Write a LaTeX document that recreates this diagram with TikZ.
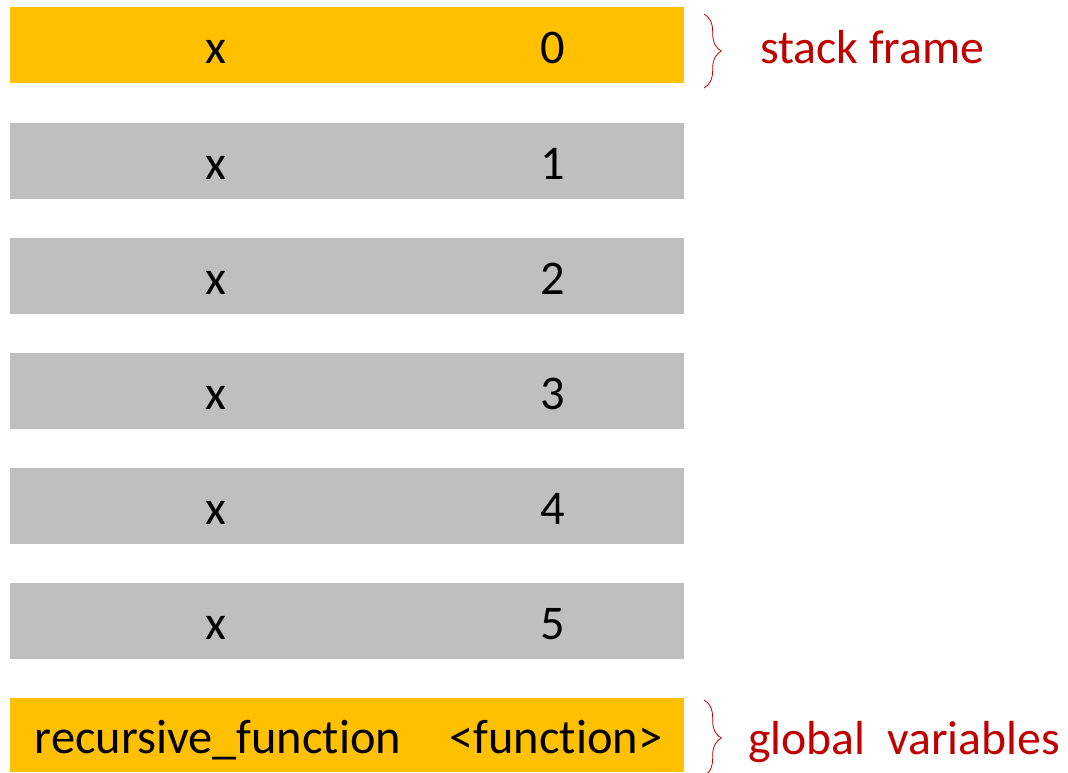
\documentclass[tikz,border=0pt]{standalone}
\usepackage{fontspec}
\setmainfont{Carlito}[RawFeature=-liga]
\usetikzlibrary{decorations.pathreplacing}
\definecolor{stackorange}{HTML}{FFC000}
\definecolor{stackgrey}{HTML}{BFBFBF}
\definecolor{notered}{HTML}{C00000}

\begin{document}
\begin{tikzpicture}[x=0.75pt,y=-0.75pt,
    bar/.style={rectangle,inner sep=0pt,minimum width=505.5pt,minimum height=57pt},
    cell/.style={anchor=base,inner sep=0pt,font=\fontsize{36.3}{44}\selectfont},
    note/.style={anchor=base west,inner sep=0pt,text=notered,font=\fontsize{35.8}{44}\selectfont},
    framebrace/.style={notered,semithick,decorate,decoration={brace,amplitude=13pt}}]
  \useasboundingbox (0,0) rectangle (1068,772);
  % current frame
  \node[bar,fill=stackorange] (frame0) at (347,45) {};
  \node[cell] (name0) at (216,63) {x};
  \node[cell] (val0) at (553,63) {0};
  % older frames
  \foreach \i/\yy in {1/161,2/276,3/391,4/506,5/621} {
    \node[bar,fill=stackgrey] (frame\i) at (347,\yy) {};
    \node[cell] (name\i) at (216,\yy+18) {x};
    \node[cell] (val\i) at (553,\yy+18) {\i};
  }
  % globals
  \node[bar,fill=stackorange,minimum height=55.5pt] (globals) at (347,735) {};
  \node[cell] (gname) at (218,753) {recursive\_function};
  \node[cell] (gval) at (556,753) {<function>};
  % braces
  \coordinate (b0a) at (704,14);
  \coordinate (b0b) at (704,88);
  \draw[framebrace] (b0a) -- (b0b);
  \node[note] (stacklbl) at (760,63) {stack frame};
  \coordinate (b1a) at (704,700);
  \coordinate (b1b) at (704,776);
  \draw[framebrace] (b1a) -- (b1b);
  \node[note] (globlbl) at (748,754) {global\ \ variables};
\end{tikzpicture}
\end{document}
